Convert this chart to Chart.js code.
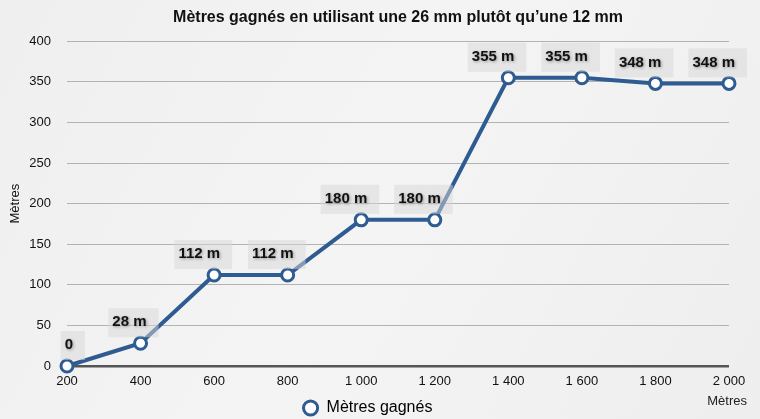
<!DOCTYPE html>
<html>
<head>
<meta charset="utf-8">
<script src="https://cdn.jsdelivr.net/npm/chart.js@4.4.1/dist/chart.umd.min.js"></script>
<style>
html,body{margin:0;padding:0;background:#f1f1f1;}
#wrap{width:760px;height:419px;}
</style>
</head>
<body>
<div id="wrap"><canvas id="c" width="760" height="419"></canvas></div>
<script>
const categories = ['200','400','600','800','1 000','1 200','1 400','1 600','1 800','2 000'];
const values = [0, 28, 112, 112, 180, 180, 355, 355, 348, 348];
const pointLabels = ['0','28 m','112 m','112 m','180 m','180 m','355 m','355 m','348 m','348 m'];
const seriesName = 'Mètres gagnés';
const chartTitle = 'Mètres gagnés en utilisant une 26 mm plutôt qu’une 12 mm';
const yTitle = 'Mètres';
const xTitle = 'Mètres';

const BLUE = '#2e5b91';
const FONT = '"Liberation Sans", Arial, Helvetica, sans-serif';

const bgPlugin = {
  id: 'bg',
  afterLayout(chart) {
    if (chart.legend) { chart.legend.top += 7; chart.legend.bottom += 7; chart.legend.left += 3; chart.legend.right += 3; }
  },
  beforeDraw(chart) {
    const ctx = chart.ctx;
    const g = ctx.createLinearGradient(0, 0, chart.width, chart.height);
    g.addColorStop(0, '#efefef');
    g.addColorStop(0.5, '#f4f4f4');
    g.addColorStop(1, '#eeeeee');
    ctx.save();
    ctx.fillStyle = g;
    ctx.fillRect(0, 0, chart.width, chart.height);
    ctx.restore();
  }
};

const labelPlugin = {
  id: 'ptlabels',
  afterDatasetsDraw(chart) {
    const ctx = chart.ctx;
    const meta = chart.getDatasetMeta(0);
    ctx.save();
    ctx.font = 'bold 15px ' + FONT;
    ctx.textBaseline = 'middle';
    ctx.textAlign = 'right';
    meta.data.forEach((pt, i) => {
      const txt = pointLabels[i];
      const w = ctx.measureText(txt).width;
      const right = pt.x + 6;
      const cy = pt.y - 21;
      ctx.fillStyle = 'rgba(215,215,215,0.5)';
      ctx.fillRect(right - w - 4, cy - 14, w + 16, 29);
      ctx.shadowColor = 'rgba(0,0,0,0.35)';
      ctx.shadowBlur = 3;
      ctx.shadowOffsetX = 1;
      ctx.shadowOffsetY = 1;
      ctx.fillStyle = '#111';
      ctx.fillText(txt, right, cy);
      ctx.shadowColor = 'transparent';
    });
    const ca = chart.chartArea;
    ctx.font = '13px ' + FONT;
    ctx.fillStyle = '#222';
    ctx.textAlign = 'right';
    ctx.fillText(xTitle, ca.right + 18, ca.bottom + 35);
    ctx.restore();
  }
};

new Chart(document.getElementById('c'), {
  type: 'line',
  data: {
    labels: categories,
    datasets: [{
      label: seriesName,
      data: values,
      borderColor: BLUE,
      borderWidth: 4,
      pointRadius: 6,
      pointHoverRadius: 6,
      pointBorderWidth: 3,
      pointBackgroundColor: '#ffffff',
      pointBorderColor: BLUE,
      tension: 0,
      clip: false
    }]
  },
  options: {
    responsive: false,
    animation: false,
    devicePixelRatio: 1,
    layout: { padding: { left: 0, right: 31, top: 0, bottom: 0 } },
    plugins: {
      title: {
        display: true,
        text: chartTitle,
        fullSize: false,
        color: '#111',
        font: { family: FONT, size: 16, weight: 'bold', lineHeight: 1.2 },
        padding: { top: 8, bottom: 14 }
      },
      legend: {
        display: true,
        position: 'bottom',
        labels: {
          usePointStyle: true,
          boxHeight: 10,
          padding: 5,
          color: '#111',
          font: { family: FONT, size: 16 },
          generateLabels(chart) {
            return [{
              text: seriesName,
              fillStyle: '#ffffff',
              strokeStyle: BLUE,
              lineWidth: 3,
              pointStyle: 'circle',
              datasetIndex: 0,
              hidden: false
            }];
          }
        }
      },
      tooltip: { enabled: false }
    },
    scales: {
      x: {
        offset: false,
        grid: { display: false, drawTicks: false },
        border: { display: false },
        ticks: { color: '#111', font: { family: FONT, size: 13 }, padding: 8, maxRotation: 0, autoSkip: false },
        afterFit(s) { s.height = 22; }
      },
      y: {
        min: 0, max: 400,
        ticks: { stepSize: 50, color: '#111', font: { family: FONT, size: 13 }, padding: 16 },
        grid: {
          drawTicks: false,
          color: (c) => c.tick && c.tick.value === 0 ? '#555555' : '#b3b3b3',
          lineWidth: (c) => c.tick && c.tick.value === 0 ? 2.5 : 1
        },
        border: { display: false },
        title: { display: true, text: yTitle, color: '#111', font: { family: FONT, size: 13 }, padding: { top: 8, bottom: 0 } },
        afterFit(s) { s.width = 67; }
      }
    }
  },
  plugins: [bgPlugin, labelPlugin]
});
</script>
</body>
</html>
